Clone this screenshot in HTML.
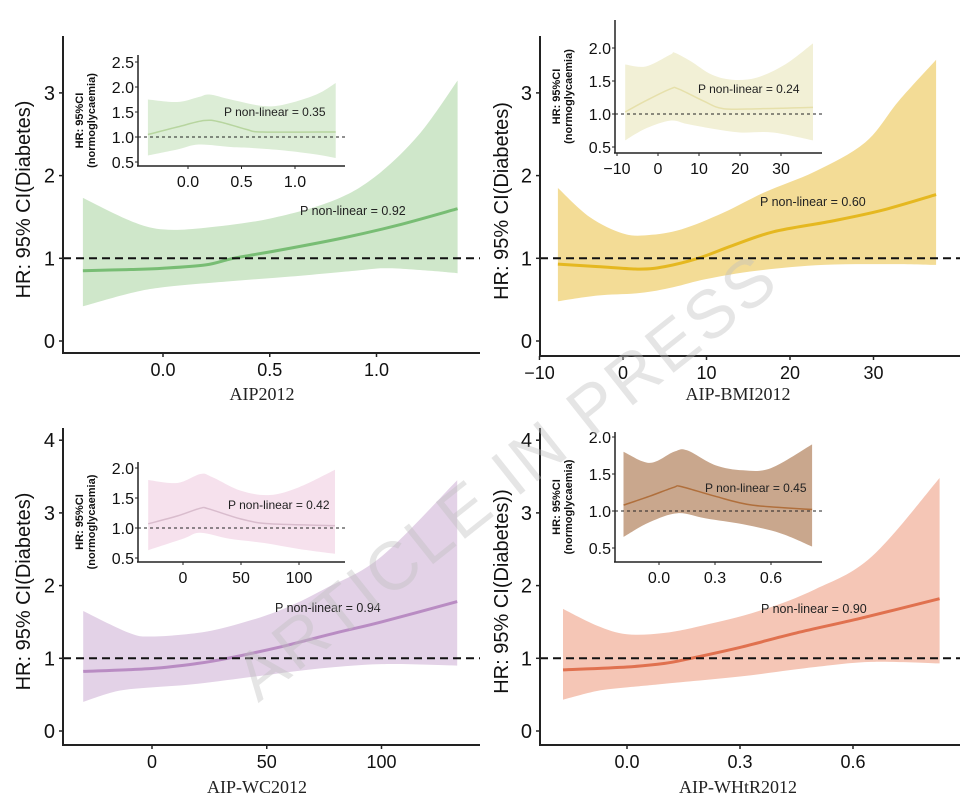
<!DOCTYPE html>
<html><head><meta charset="utf-8"><style>
html,body{margin:0;padding:0;background:#fff;}
svg{display:block;font-family:"Liberation Sans",sans-serif;}
</style></head><body>
<svg id="chart" width="961" height="804" viewBox="0 0 961 804"></svg>
<script>
// ---------- Panel data ----------
const p1X = [-0.375,-0.15,0,0.2,0.33,0.55,0.85,1.1,1.38];
const p1Mid = [0.85,0.865,0.88,0.92,1.0,1.1,1.25,1.4,1.6];
const p1UpX = [-0.375,-0.15,0,0.2,0.5,0.8,1.0,1.2,1.38];
const p1Up = [1.73,1.45,1.35,1.37,1.48,1.7,2.0,2.5,3.15];
const p1LoX = [-0.375,-0.15,0,0.3,0.6,0.9,1.05,1.25,1.38];
const p1Lo = [0.42,0.58,0.65,0.72,0.78,0.85,0.88,0.85,0.82];
const i1X = [-0.375,-0.1,0.15,0.3,0.55,0.7,1.38];
const i1Mid = [1.05,1.2,1.33,1.3,1.15,1.1,1.1];
const i1UpX = [-0.375,-0.1,0.1,0.2,0.4,0.7,0.9,1.2,1.38];
const i1Up = [1.75,1.7,1.8,1.85,1.75,1.62,1.65,1.85,2.08];
const i1LoX = [-0.375,-0.1,0.1,0.4,0.6,0.9,1.2,1.38];
const i1Lo = [0.63,0.75,0.85,0.8,0.78,0.73,0.65,0.58];

const p2X = [-7.8,-3,2,5,9,13,18,25,31,37.5];
const p2Mid = [0.93,0.9,0.87,0.9,1.0,1.15,1.32,1.45,1.58,1.77];
const p2UpX = [-7.8,-4,0,3,7,12,17,23,29,33,37.5];
const p2Up = [1.85,1.5,1.3,1.28,1.35,1.55,1.8,2.05,2.4,2.9,3.4];
const p2LoX = [-7.8,-3,2,6,10,16,24,32,37.5];
const p2Lo = [0.48,0.55,0.58,0.65,0.75,0.85,0.92,0.93,0.92];
const i2X = [-8,-3,3,5,11,16,25,37.8];
const i2Mid = [1.03,1.2,1.38,1.38,1.2,1.08,1.08,1.1];
const i2UpX = [-8,-3,3,4,8,13,18,24,31,37.8];
const i2Up = [1.75,1.72,1.9,1.93,1.8,1.6,1.52,1.55,1.75,2.07];
const i2LoX = [-8,-3,3,7,13,20,28,37.8];
const i2Lo = [0.6,0.78,0.9,0.85,0.78,0.72,0.72,0.6];

const p3X = [-30,0,20,33,55,80,100,133];
const p3Mid = [0.82,0.86,0.93,1.0,1.15,1.35,1.5,1.78];
const p3UpX = [-30,-10,0,20,35,55,75,100,133];
const p3Up = [1.65,1.35,1.3,1.35,1.45,1.65,1.95,2.4,3.45];
const p3LoX = [-30,-15,0,20,45,70,100,133];
const p3Lo = [0.4,0.55,0.6,0.65,0.75,0.85,0.92,0.9];
const i3X = [-30,-5,15,22,50,75,131];
const i3Mid = [1.07,1.2,1.33,1.32,1.15,1.07,1.04];
const i3UpX = [-30,-5,15,25,50,75,100,131];
const i3Up = [1.8,1.75,1.9,1.85,1.62,1.55,1.68,1.97];
const i3LoX = [-30,0,15,40,70,100,131];
const i3Lo = [0.63,0.82,0.92,0.82,0.75,0.65,0.57];

const p4X = [-0.17,0,0.1,0.17,0.3,0.45,0.62,0.83];
const p4Mid = [0.84,0.88,0.93,1.0,1.15,1.35,1.55,1.82];
const p4UpX = [-0.17,-0.08,0,0.1,0.2,0.35,0.5,0.65,0.83];
const p4Up = [1.68,1.45,1.33,1.35,1.45,1.65,1.95,2.4,3.48];
const p4LoX = [-0.17,-0.08,0,0.1,0.3,0.5,0.65,0.83];
const p4Lo = [0.43,0.55,0.6,0.65,0.75,0.88,0.95,0.93];
const i4X = [-0.19,-0.05,0.08,0.12,0.3,0.5,0.82];
const i4Mid = [1.08,1.2,1.32,1.33,1.2,1.08,1.02];
const i4UpX = [-0.19,-0.05,0.08,0.15,0.3,0.45,0.6,0.82];
const i4Up = [1.8,1.65,1.8,1.82,1.62,1.55,1.58,1.9];
const i4LoX = [-0.19,-0.05,0.1,0.25,0.45,0.65,0.82];
const i4Lo = [0.65,0.85,0.97,0.9,0.82,0.7,0.52];

const xTicks1 = [0,0.5,1]; const xTickLabels1 = ["0.0","0.5","1.0"];
const yTicksA = [0,1,2,3]; const yTicksB = [0,1,2,3,4];
const xTicks2 = [-10,0,10,20,30]; const xTickLabels2 = ["\u221210","0","10","20","30"];
const xTicks3 = [0,50,100]; const xTickLabels3 = ["0","50","100"];
const xTicks4 = [0,0.3,0.6]; const xTickLabels4 = ["0.0","0.3","0.6"];
const iyTicks1 = [0.5,1,1.5,2,2.5]; const iyLabels1 = ["0.5","1.0","1.5","2.0","2.5"];
const iyTicks2 = [0.5,1,1.5,2]; const iyLabels2 = ["0.5","1.0","1.5","2.0"];
const pLabels = ["P non-linear = 0.92","P non-linear = 0.60","P non-linear = 0.94","P non-linear = 0.90"];
const ipLabels = ["P non-linear = 0.35","P non-linear = 0.24","P non-linear = 0.42","P non-linear = 0.45"];

const NS = "http://www.w3.org/2000/svg";
const svg = document.getElementById('chart');
function el(tag, attrs, parent, text){
  const e = document.createElementNS(NS, tag);
  for (const k in attrs) e.setAttribute(k, attrs[k]);
  if (text !== undefined) e.textContent = text;
  (parent||svg).appendChild(e);
  return e;
}
function lin(d0,d1,r0,r1){ return v => r0 + (v-d0)*(r1-r0)/(d1-d0); }
function smoothPts(xs, ys, sx, sy){
  return xs.map((x,i)=>[sx(x), sy(ys[i])]);
}
function catmull(p, move){
  let d = (move? "M":"L") + p[0][0].toFixed(1)+","+p[0][1].toFixed(1);
  for (let i=0;i<p.length-1;i++){
    const p0=p[i-1]||p[i], p1=p[i], p2=p[i+1], p3=p[i+2]||p2;
    const c1=[p1[0]+(p2[0]-p0[0])/6, p1[1]+(p2[1]-p0[1])/6];
    const c2=[p2[0]-(p3[0]-p1[0])/6, p2[1]-(p3[1]-p1[1])/6];
    d += "C"+c1[0].toFixed(1)+","+c1[1].toFixed(1)+" "+c2[0].toFixed(1)+","+c2[1].toFixed(1)+" "+p2[0].toFixed(1)+","+p2[1].toFixed(1);
  }
  return d;
}
function band(g, upX, up, loX, lo, sx, sy, fill, name){
  const pu = smoothPts(upX, up, sx, sy);
  const pl = smoothPts(loX, lo, sx, sy).reverse();
  const d = catmull(pu,true) + catmull(pl,false).replace(/^M/,"L") + "Z";
  const b = el('path',{d:d, fill:fill, stroke:'none'}, g);
  
  
}
function line(g, xs, ys, sx, sy, color, w, name){
  const l = el('path',{d:catmull(smoothPts(xs,ys,sx,sy),true), fill:'none', stroke:color, 'stroke-width':w}, g);
  
  
}

const panels = [
 {id:1, ax:{x0:63,yTop:36,yBot:353,xRight:480}, xd:[0,1,163,376.5], yd:[0,1,341,258.3], yT:yTicksA, xT:xTicks1, xL:xTickLabels1,
  mid:[p1X,p1Mid], up:[p1UpX,p1Up], lo:[p1LoX,p1Lo], fill:'#cfe7ca', col:'#78bd74', xlabel:'AIP2012', ylabel:'HR: 95% CI(Diabetes)', ylx:30, xlx:262, xly:400, pl:[300,215],
  inset:{x0:138,yTop:55,yBot:166,xRight:345, xd:[0,1,188,295], yd:[1,2,137,87], yT:iyTicks1, yL:iyLabels1, xT:xTicks1, xL:xTickLabels1,
   mid:[i1X,i1Mid], up:[i1UpX,i1Up], lo:[i1LoX,i1Lo], fill:'#dcedd6', col:'#b7d59f', pl:[224,116]}},
 {id:2, ax:{x0:540,yTop:36,yBot:356,xRight:960}, xd:[0,10,623,706.5], yd:[0,1,341,258.3], yT:yTicksA, xT:xTicks2, xL:xTickLabels2,
  mid:[p2X,p2Mid], up:[p2UpX,p2Up], lo:[p2LoX,p2Lo], fill:'#f3dc96', col:'#e5b820', xlabel:'AIP-BMI2012', ylabel:'HR: 95% CI(Diabetes)', ylx:508, xlx:738, xly:400, pl:[760,206],
  inset:{x0:615,yTop:20,yBot:153,xRight:822, xd:[0,10,658,699], yd:[1,2,114,48], yT:iyTicks2, yL:iyLabels2, xT:xTicks2, xL:xTickLabels2,
   mid:[i2X,i2Mid], up:[i2UpX,i2Up], lo:[i2LoX,i2Lo], fill:'#f2f0d6', col:'#e6e0ab', pl:[698,93]}},
 {id:3, ax:{x0:63,yTop:428,yBot:745,xRight:480}, xd:[0,100,152,381.5], yd:[0,1,731,658.3], yT:yTicksB, xT:xTicks3, xL:xTickLabels3,
  mid:[p3X,p3Mid], up:[p3UpX,p3Up], lo:[p3LoX,p3Lo], fill:'#e3d2e7', col:'#b98cc3', xlabel:'AIP-WC2012', ylabel:'HR: 95% CI(Diabetes)', ylx:30, xlx:257, xly:793, pl:[275,612],
  inset:{x0:138,yTop:462,yBot:562,xRight:345, xd:[0,100,183,299], yd:[1,2,528,468], yT:iyTicks2, yL:iyLabels2, xT:xTicks3, xL:xTickLabels3,
   mid:[i3X,i3Mid], up:[i3UpX,i3Up], lo:[i3LoX,i3Lo], fill:'#f6e1ed', col:'#d9bccd', pl:[228,509]}},
 {id:4, ax:{x0:540,yTop:428,yBot:745,xRight:960}, xd:[0,0.6,627,853], yd:[0,1,731,658.3], yT:yTicksB, xT:xTicks4, xL:xTickLabels4,
  mid:[p4X,p4Mid], up:[p4UpX,p4Up], lo:[p4LoX,p4Lo], fill:'#f5c6b6', col:'#e0714f', xlabel:'AIP-WHtR2012', ylabel:'HR: 95% CI(Diabetes))', ylx:508, xlx:738, xly:793, pl:[761,613],
  inset:{x0:615,yTop:432,yBot:562,xRight:822, xd:[0,0.6,659,771], yd:[1,2,511,437], yT:iyTicks2, yL:iyLabels2, xT:xTicks4, xL:xTickLabels4,
   mid:[i4X,i4Mid], up:[i4UpX,i4Up], lo:[i4LoX,i4Lo], fill:'#c9a78d', col:'#b06f3c', pl:[705,492]}}
];

panels.forEach(P=>{
  const g = el('g',{});
  
  
  const sx = lin(...P.xd), sy = lin(...P.yd);
  band(g, P.up[0], P.up[1], P.lo[0], P.lo[1], sx, sy, P.fill, 'ci-band-'+P.id);
  line(g, P.mid[0], P.mid[1], sx, sy, P.col, 3, 'hr-curve-'+P.id);
  const ref = el('line',{x1:P.ax.x0, x2:P.ax.xRight, y1:sy(1), y2:sy(1), stroke:'#111', 'stroke-width':2, 'stroke-dasharray':'8,5'}, g);
  
  
  const ya = el('line',{x1:P.ax.x0,x2:P.ax.x0,y1:P.ax.yTop,y2:P.ax.yBot,stroke:'#222','stroke-width':2}, g);
  
  
  const xa = el('line',{x1:P.ax.x0-1,x2:P.ax.xRight,y1:P.ax.yBot,y2:P.ax.yBot,stroke:'#222','stroke-width':2}, g);
  
  
  P.yT.forEach(v=>{
    el('line',{x1:P.ax.x0-4,x2:P.ax.x0,y1:sy(v),y2:sy(v),stroke:'#222','stroke-width':1.5}, g);
    const t = el('text',{x:P.ax.x0-8,y:sy(v)+7,'text-anchor':'end','font-size':20,fill:'#111'}, g, String(v));
    
    
  });
  P.xT.forEach((v,i)=>{
    el('line',{x1:sx(v),x2:sx(v),y1:P.ax.yBot,y2:P.ax.yBot+4,stroke:'#222','stroke-width':1.5}, g);
    const t = el('text',{x:sx(v),y:P.ax.yBot+23,'text-anchor':'middle','font-size':18,fill:'#111'}, g, P.xL[i]);
    
    
  });
  const xt = el('text',{x:P.xlx,y:P.xly,'text-anchor':'middle','font-size':18,'font-family':'Liberation Serif, serif',fill:'#222'}, g, P.xlabel);
  
  
  const cy = (P.ax.yTop+P.ax.yBot)/2 + 5;
  const yt = el('text',{x:P.ylx,y:cy,'text-anchor':'middle','font-size':20,fill:'#111',transform:'rotate(-90 '+P.ylx+' '+cy+')'}, g, P.ylabel);
  
  
  const pt = el('text',{x:P.pl[0],y:P.pl[1],'font-size':12.5,fill:'#222'}, g, pLabels[P.id-1]);
  
  

  const I = P.inset;
  const ig = el('g',{}, g);
  
  
  const ix = lin(...I.xd), iy = lin(...I.yd);
  band(ig, I.up[0], I.up[1], I.lo[0], I.lo[1], ix, iy, I.fill, 'inset-ci-band-'+P.id);
  line(ig, I.mid[0], I.mid[1], ix, iy, I.col, 1.5, 'inset-hr-curve-'+P.id);
  const iref = el('line',{x1:I.x0,x2:I.xRight,y1:iy(1),y2:iy(1),stroke:'#222','stroke-width':1,'stroke-dasharray':'3,3'}, ig);
  
  
  el('line',{x1:I.x0,x2:I.x0,y1:I.yTop,y2:I.yBot,stroke:'#222','stroke-width':1.5}, ig);
  el('line',{x1:I.x0-1,x2:I.xRight,y1:I.yBot,y2:I.yBot,stroke:'#222','stroke-width':1.5}, ig);
  I.yT.forEach((v,i)=>{
    el('line',{x1:I.x0-3,x2:I.x0,y1:iy(v),y2:iy(v),stroke:'#222','stroke-width':1}, ig);
    const t = el('text',{x:I.x0-4,y:iy(v)+6,'text-anchor':'end','font-size':16,fill:'#111'}, ig, I.yL[i]);
    
    
  });
  I.xT.forEach((v,i)=>{
    el('line',{x1:ix(v),x2:ix(v),y1:I.yBot,y2:I.yBot+3,stroke:'#222','stroke-width':1}, ig);
    const t = el('text',{x:ix(v),y:I.yBot+21,'text-anchor':'middle','font-size':16,fill:'#111'}, ig, I.xL[i]);
    
    
  });
  const icy = (I.yTop+I.yBot)/2 + 10;
  const ty1 = el('text',{x:I.x0-55,y:icy,'text-anchor':'middle','font-size':11,'font-weight':'bold',fill:'#111',transform:'rotate(-90 '+(I.x0-55)+' '+icy+')'}, ig, 'HR: 95%CI');
  
  
  const ty2 = el('text',{x:I.x0-43,y:icy,'text-anchor':'middle','font-size':11,'font-weight':'bold',fill:'#111',transform:'rotate(-90 '+(I.x0-43)+' '+icy+')'}, ig, '(normoglycaemia)');
  
  
  const ip = el('text',{x:I.pl[0],y:I.pl[1],'font-size':12,fill:'#222'}, ig, ipLabels[P.id-1]);
  
  
});

const wm = el('text',{x:505,y:500,'text-anchor':'middle','font-size':68,fill:'rgba(190,190,190,0.4)','letter-spacing':3,transform:'rotate(-38.5 505 475)'}, svg, 'ARTICLE IN PRESS');


</script>
</body></html>
